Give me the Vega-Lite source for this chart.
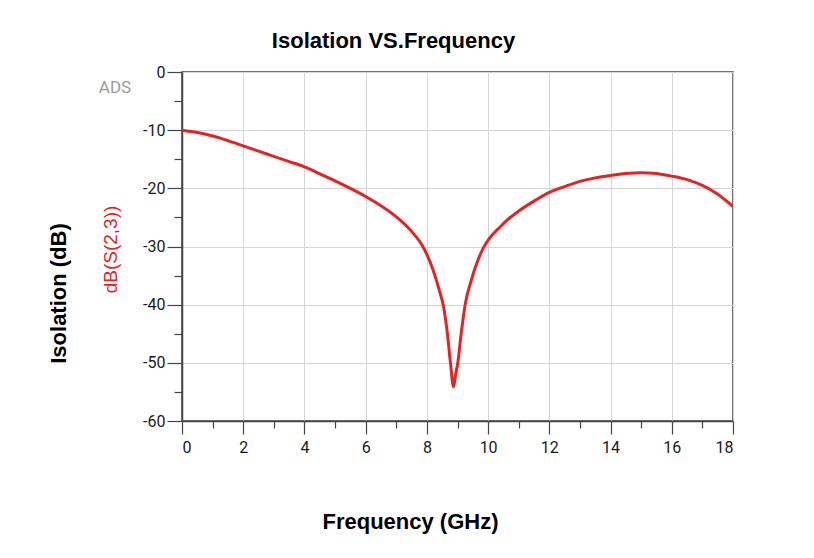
{
  "$schema": "https://vega.github.io/schema/vega-lite/v6.json",
  "autosize": {"type": "none"},
  "width": 551,
  "height": 349,
  "padding": {"left": 182, "top": 72, "right": 81, "bottom": 137},
  "background": "white",
  "title": {
    "text": "Isolation VS.Frequency",
    "font": "Liberation Sans",
    "fontSize": 22,
    "fontWeight": "bold",
    "color": "#000000",
    "anchor": "middle",
    "frame": "group",
    "dx": -64,
    "baseline": "alphabetic",
    "offset": -6
  },
  "config": {
    "view": {"stroke": "#444444", "strokeWidth": 1.5},
    "axis": {
      "labelFont": "Roboto",
      "labelFontSize": 16,
      "labelColor": "#1a1a1a",
      "domainColor": "#444444",
      "domainWidth": 1.5,
      "tickColor": "#444444",
      "tickWidth": 1.2,
      "gridColor": "#d4d4d4",
      "gridWidth": 1
    }
  },
  "data": {
    "values": [
      {"f": 0, "dB": -10.0}, {"f": 0.5, "dB": -10.4}, {"f": 1, "dB": -11.0}, {"f": 1.5, "dB": -11.8},
      {"f": 2, "dB": -12.7}, {"f": 2.5, "dB": -13.6}, {"f": 3, "dB": -14.5}, {"f": 3.5, "dB": -15.4},
      {"f": 4, "dB": -16.3}, {"f": 4.5, "dB": -17.5}, {"f": 5, "dB": -18.7}, {"f": 5.5, "dB": -20.0},
      {"f": 6, "dB": -21.4}, {"f": 6.5, "dB": -23.0}, {"f": 7, "dB": -24.9}, {"f": 7.5, "dB": -27.4},
      {"f": 7.9, "dB": -30.3}, {"f": 8.2, "dB": -34.0}, {"f": 8.4, "dB": -37.4}, {"f": 8.55, "dB": -40.5},
      {"f": 8.67, "dB": -45.0}, {"f": 8.77, "dB": -50.0}, {"f": 8.87, "dB": -54.1}, {"f": 8.94, "dB": -52.0},
      {"f": 9.01, "dB": -50.0}, {"f": 9.12, "dB": -45.0}, {"f": 9.25, "dB": -40.0}, {"f": 9.45, "dB": -35.8},
      {"f": 9.65, "dB": -32.6}, {"f": 9.85, "dB": -30.2}, {"f": 10, "dB": -28.9}, {"f": 10.4, "dB": -26.6},
      {"f": 10.7, "dB": -25.1}, {"f": 11, "dB": -23.9}, {"f": 11.5, "dB": -22.2}, {"f": 12, "dB": -20.7},
      {"f": 12.5, "dB": -19.7}, {"f": 13, "dB": -18.8}, {"f": 13.5, "dB": -18.2}, {"f": 14, "dB": -17.8},
      {"f": 14.5, "dB": -17.45}, {"f": 15, "dB": -17.3}, {"f": 15.5, "dB": -17.45}, {"f": 16, "dB": -17.9},
      {"f": 16.5, "dB": -18.5}, {"f": 17, "dB": -19.5}, {"f": 17.5, "dB": -21.0}, {"f": 18, "dB": -23.1}
    ]
  },
  "layer": [
    {
      "mark": {"type": "line", "color": "#e32424", "strokeWidth": 3, "interpolate": "monotone", "clip": true},
      "encoding": {
        "x": {
          "field": "f", "type": "quantitative",
          "scale": {"domain": [0, 18], "nice": false, "zero": false},
          "axis": {
            "values": [0, 2, 4, 6, 8, 10, 12, 14, 16, 18],
            "labelExpr": "toString(datum.value)",
            "tickSize": 13, "labelPadding": 5, "grid": true, "title": null
          }
        },
        "y": {
          "field": "dB", "type": "quantitative",
          "scale": {"domain": [-60, 0], "nice": false, "zero": false},
          "axis": {
            "values": [0, -10, -20, -30, -40, -50, -60],
            "labelExpr": "toString(datum.value)",
            "tickSize": 15, "labelPadding": 2, "grid": true,
            "title": "dB(S(2,3))",
            "titleFont": "Liberation Sans", "titleFontSize": 19, "titleFontWeight": "normal",
            "titleColor": "#e32424",
            "titleX": -66, "titleY": 177, "titleAlign": "center", "titleBaseline": "alphabetic", "titleAngle": -90
          }
        }
      }
    },
    {
      "mark": {"type": "line", "opacity": 0},
      "encoding": {
        "x": {
          "field": "f", "type": "quantitative",
          "scale": {"domain": [0, 18], "nice": false, "zero": false},
          "axis": {
            "orient": "bottom",
            "values": [1, 3, 5, 7, 9, 11, 13, 15, 17],
            "tickSize": 7, "labels": false, "domain": false, "grid": false,
            "title": "Frequency (GHz)",
            "titleFont": "Liberation Sans", "titleFontSize": 22, "titleFontWeight": "bold", "titleColor": "#000000",
            "titleX": 228, "titleY": 107, "titleAlign": "center", "titleBaseline": "alphabetic"
          }
        },
        "y": {
          "field": "dB", "type": "quantitative",
          "scale": {"domain": [-60, 0], "nice": false, "zero": false},
          "axis": {
            "orient": "left",
            "values": [-5, -15, -25, -35, -45, -55],
            "tickSize": 8, "labels": false, "domain": false, "grid": false,
            "title": "Isolation (dB)",
            "titleFont": "Liberation Sans", "titleFontSize": 22, "titleFontWeight": "bold", "titleColor": "#000000",
            "titleX": -117, "titleY": 221, "titleAlign": "center", "titleBaseline": "alphabetic", "titleAngle": -90
          }
        }
      }
    },
    {
      "data": {"values": [{"f": -2.19, "dB": -2.7, "label": "ADS"}]},
      "mark": {"type": "text", "font": "Roboto", "fontSize": 17, "color": "#9a9a9a", "align": "center", "baseline": "middle", "clip": false},
      "encoding": {
        "x": {"field": "f", "type": "quantitative", "scale": {"domain": [0, 18], "nice": false, "zero": false}, "axis": null},
        "y": {"field": "dB", "type": "quantitative", "scale": {"domain": [-60, 0], "nice": false, "zero": false}, "axis": null},
        "text": {"field": "label", "type": "nominal"}
      }
    }
  ],
  "resolve": {"scale": {"x": "independent", "y": "independent"}}
}
